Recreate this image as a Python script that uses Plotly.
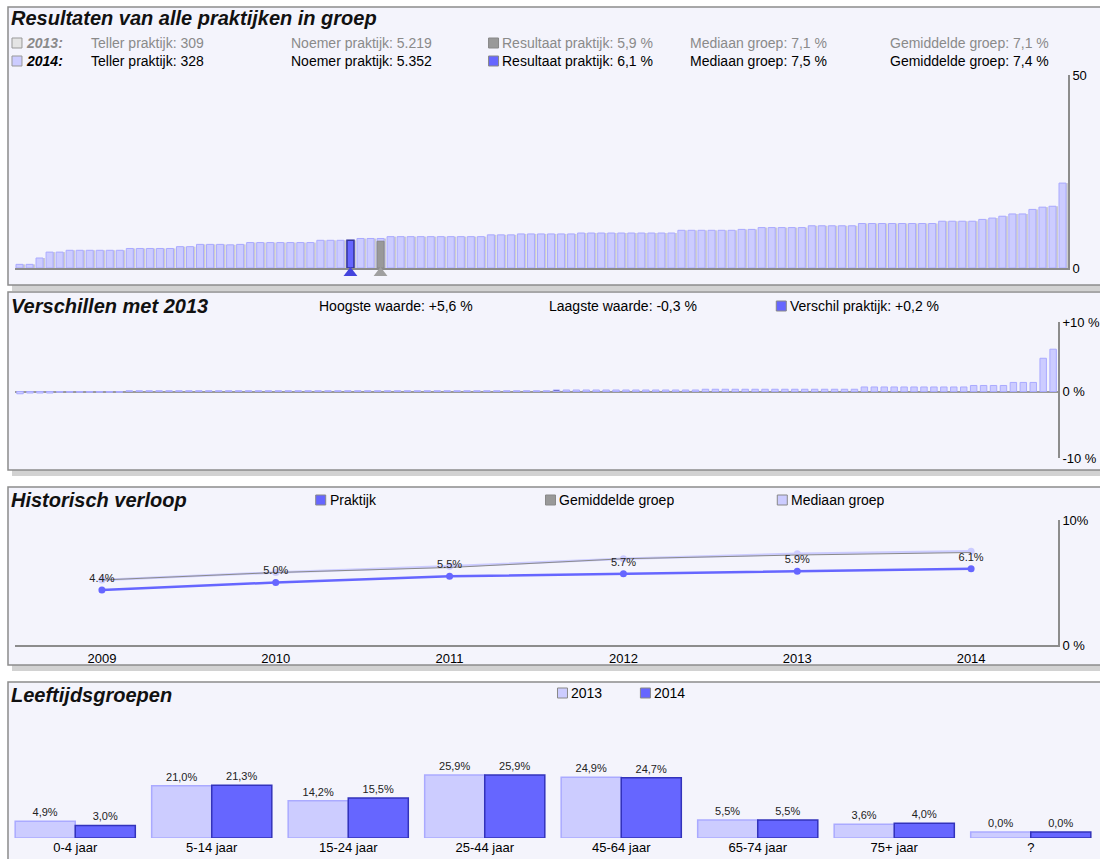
import plotly.graph_objects as go

W, H = 1100, 859

# ---- panel 1: result 2014 for every practice in the group (sorted, %) ----
results_2014 = [
    0.8, 0.8, 2.2, 3.5, 3.5, 3.9, 3.9, 3.9, 3.9, 3.9,
    3.9, 4.3, 4.3, 4.3, 4.3, 4.3, 4.7, 4.7, 5.2, 5.2,
    5.2, 5.1, 5.2, 5.6, 5.6, 5.6, 5.6, 5.6, 5.6, 5.6,
    6.1, 6.1, 6.1, 6.1, 6.5, 6.5, 6.5, 6.9, 6.9, 6.9,
    6.9, 6.9, 6.9, 6.9, 6.9, 6.9, 6.9, 7.3, 7.3, 7.3,
    7.5, 7.5, 7.5, 7.5, 7.5, 7.5, 7.7, 7.7, 7.7, 7.7,
    7.7, 7.7, 7.7, 7.7, 7.7, 7.7, 8.3, 8.3, 8.3, 8.3,
    8.3, 8.3, 8.5, 8.5, 8.9, 8.9, 8.9, 8.9, 8.9, 9.3,
    9.3, 9.3, 9.3, 9.3, 9.8, 9.8, 9.8, 9.8, 9.8, 9.8,
    9.8, 9.8, 10.3, 10.3, 10.3, 10.3, 10.7, 11.0, 11.4, 11.9,
    11.9, 12.9, 13.4, 13.6, 18.7,
]
practice_idx_2014 = 33
practice_idx_2013 = 36
practice_2014 = 6.1
practice_2013 = 5.9

# ---- panel 2: difference with 2013 per practice (sorted, %) ----
diff_2013 = [
    -0.3, -0.2, -0.2, -0.2, -0.1, -0.1, -0.1, -0.1, -0.1, -0.1,
    -0.1, 0.1, 0.1, 0.1, 0.1, 0.1, 0.1, 0.1, 0.1, 0.1,
    0.1, 0.1, 0.1, 0.1, 0.1, 0.1, 0.1, 0.1, 0.1, 0.1,
    0.1, 0.1, 0.1, 0.1, 0.1, 0.1, 0.1, 0.1, 0.1, 0.1,
    0.1, 0.1, 0.1, 0.1, 0.1, 0.1, 0.1, 0.1, 0.1, 0.1,
    0.1, 0.1, 0.1, 0.1, 0.2, 0.2, 0.2, 0.2, 0.2, 0.2,
    0.2, 0.2, 0.2, 0.2, 0.2, 0.2, 0.2, 0.2, 0.2, 0.3,
    0.3, 0.3, 0.3, 0.3, 0.3, 0.3, 0.3, 0.3, 0.3, 0.3,
    0.3, 0.3, 0.3, 0.3, 0.3, 0.6, 0.6, 0.6, 0.6, 0.6,
    0.6, 0.6, 0.6, 0.6, 0.6, 0.6, 0.8, 0.8, 0.8, 0.8,
    1.2, 1.2, 1.2, 4.4, 5.6,
]
practice_diff_idx = 54

# ---- panel 3: history ----
years = ['2009', '2010', '2011', '2012', '2013', '2014']
hist_praktijk = [4.4, 5.0, 5.5, 5.7, 5.9, 6.1]
hist_gemiddelde = [5.2, 5.8, 6.2, 6.9, 7.2, 7.4]
hist_mediaan = [5.2, 5.8, 6.3, 6.9, 7.3, 7.5]

# ---- panel 4: age groups ----
age_groups = ['0-4 jaar', '5-14 jaar', '15-24 jaar', '25-44 jaar',
              '45-64 jaar', '65-74 jaar', '75+ jaar', '?']
age_2013 = [4.9, 21.0, 14.2, 25.9, 24.9, 5.5, 3.6, 0.0]
age_2014 = [3.0, 21.3, 15.5, 25.9, 24.7, 5.5, 4.0, 0.0]

FONT = 'Liberation Sans, Arial, sans-serif'
LAV = '#ccccff'
LAV_LINE = '#aaaaff'
BLUE = '#6666ff'
BLUE_LINE = '#3333bb'
GREY = '#999999'
PANEL_BG = '#f4f4fc'
FRAME = '#8c8c8c'


def fx(px):
    return px / W


def fy(py):
    # vertical pixel -> paper fraction (calibrated against the rendered page)
    return 1 - (py - 7) / 844


def nl(v):
    return f"{v:.1f}%".replace('.', ',')


traces = []

# panel 1
idx1 = list(range(len(results_2014)))
traces.append(go.Bar(x=idx1, y=results_2014, xaxis='x', yaxis='y',
                     width=0.7, offset=-0.2,
                     marker=dict(color='#cdcdcd', line=dict(width=0)),
                     hoverinfo='skip'))
traces.append(go.Bar(x=idx1, y=results_2014, xaxis='x', yaxis='y',
                     width=0.7, offset=-0.4,
                     marker=dict(color=LAV, line=dict(color=LAV_LINE, width=1))))
traces.append(go.Bar(x=[practice_idx_2013], y=[practice_2013], xaxis='x', yaxis='y',
                     width=0.7, offset=-0.4,
                     marker=dict(color=GREY, line=dict(color='#888888', width=1))))
traces.append(go.Bar(x=[practice_idx_2014], y=[practice_2014], xaxis='x', yaxis='y',
                     width=0.7, offset=-0.4,
                     marker=dict(color=BLUE, line=dict(color='#333399', width=1.5))))
# position markers under the practice bars (own thin strip axis)
traces.append(go.Scatter(x=[practice_idx_2014 - 0.05, practice_idx_2013 - 0.05], y=[0, 0],
                         xaxis='x', yaxis='y5', mode='markers', cliponaxis=False,
                         marker=dict(symbol='triangle-up', size=12,
                                     color=['#4444dd', '#a0a0a0'],
                                     line=dict(width=0))))

# panel 2
idx2 = list(range(len(diff_2013)))
diff_colors = [LAV] * len(diff_2013)
diff_colors[practice_diff_idx] = '#444499'
traces.append(go.Bar(x=idx2, y=diff_2013, xaxis='x2', yaxis='y2',
                     width=0.65, offset=-0.32,
                     marker=dict(color=diff_colors, line=dict(color=LAV_LINE, width=1))))

# panel 3
traces.append(go.Scatter(x=years, y=hist_mediaan, xaxis='x3', yaxis='y3',
                         mode='lines+markers', line=dict(color=LAV, width=2.5),
                         marker=dict(size=7, color=LAV)))
traces.append(go.Scatter(x=years, y=hist_gemiddelde, xaxis='x3', yaxis='y3',
                         mode='lines', line=dict(color='#8a8a8a', width=1)))
traces.append(go.Scatter(x=years, y=hist_praktijk, xaxis='x3', yaxis='y3',
                         mode='lines+markers+text', line=dict(color=BLUE, width=2.5),
                         marker=dict(size=7, color=BLUE),
                         text=[f"{v:.1f}%" for v in hist_praktijk],
                         textposition='top center',
                         textfont=dict(size=11, color='#222')))

# panel 4 - bars carry a small stub below the zero line, as in the original
stub = 2.7
traces.append(go.Bar(x=age_groups, y=[v + stub for v in age_2013], base=-stub,
                     xaxis='x4', yaxis='y4',
                     marker=dict(color=LAV, line=dict(color=LAV_LINE, width=1.5)),
                     text=[nl(v) for v in age_2013], textposition='outside',
                     textfont=dict(size=11, color='#222'), cliponaxis=False))
traces.append(go.Bar(x=age_groups, y=[v + stub for v in age_2014], base=-stub,
                     xaxis='x4', yaxis='y4',
                     marker=dict(color=BLUE, line=dict(color=BLUE_LINE, width=1.5)),
                     text=[nl(v) for v in age_2014], textposition='outside',
                     textfont=dict(size=11, color='#222'), cliponaxis=False))

fig = go.Figure(data=traces)

# panel frames (shadow + box)
shapes = []
for top, bottom in [(7, 285), (292, 470), (487, 665), (682, 866)]:
    shapes.append(dict(type='rect', xref='paper', yref='paper', layer='below',
                       x0=fx(12), x1=fx(1110), y0=fy(bottom + 6), y1=fy(bottom),
                       fillcolor='#d2d2d2', line=dict(width=0)))
    shapes.append(dict(type='rect', xref='paper', yref='paper', layer='below',
                       x0=fx(8), x1=fx(1110), y0=fy(bottom), y1=fy(top),
                       fillcolor=PANEL_BG, line=dict(color=FRAME, width=1.5)))

annotations = []


def text(x, y, s, size=14, color='#000'):
    annotations.append(dict(xref='paper', yref='paper', x=fx(x), y=fy(y), text=s,
                            showarrow=False, xanchor='left', yanchor='middle',
                            font=dict(size=size, color=color, family=FONT)))


def square(x, y, color, border='#888888'):
    shapes.append(dict(type='rect', xref='paper', yref='paper',
                       x0=fx(x), x1=fx(x + 10), y0=fy(y + 5), y1=fy(y - 5),
                       fillcolor=color, line=dict(color=border, width=1)))


# panel 1 header
text(9, 18, '<b><i>Resultaten van alle praktijken in groep</i></b>', size=20, color='#111')
row1, row2 = 43, 61
grey_txt = '#8a8a8a'
square(12, row1, '#e4e4e4', '#999')
text(24, row1, '<b><i>2013:</i></b>', color=grey_txt)
text(89, row1, 'Teller praktijk: 309', color=grey_txt)
text(289, row1, 'Noemer praktijk: 5.219', color=grey_txt)
square(489, row1, GREY)
text(500, row1, 'Resultaat praktijk: 5,9 %', color=grey_txt)
text(689, row1, 'Mediaan groep: 7,1 %', color=grey_txt)
text(889, row1, 'Gemiddelde groep: 7,1 %', color=grey_txt)
square(12, row2, LAV, '#999')
text(24, row2, '<b><i>2014:</i></b>')
text(89, row2, 'Teller praktijk: 328')
text(289, row2, 'Noemer praktijk: 5.352')
square(489, row2, BLUE)
text(500, row2, 'Resultaat praktijk: 6,1 %')
text(689, row2, 'Mediaan groep: 7,5 %')
text(889, row2, 'Gemiddelde groep: 7,4 %')

# panel 2 header
text(9, 306, '<b><i>Verschillen met 2013</i></b>', size=20, color='#111')
text(317, 306, 'Hoogste waarde: +5,6 %')
text(547, 306, 'Laagste waarde: -0,3 %')
square(777, 306, BLUE)
text(789, 306, 'Verschil praktijk: +0,2 %')

# panel 3 header
text(9, 500, '<b><i>Historisch verloop</i></b>', size=20, color='#111')
square(316, 500, BLUE)
text(328, 500, 'Praktijk')
square(546, 500, GREY)
text(558, 500, 'Gemiddelde groep')
square(778, 500, LAV)
text(790, 500, 'Mediaan groep')

# panel 4 header
text(9, 695, '<b><i>Leeftijdsgroepen</i></b>', size=20, color='#111')
square(558, 693, LAV)
text(570, 693, '2013')
square(641, 693, BLUE)
text(653, 693, '2014')

tickfont = dict(size=13, color='#000', family=FONT)

fig.update_layout(
    width=W, height=H,
    margin=dict(l=0, r=0, t=0, b=0),
    paper_bgcolor='white',
    plot_bgcolor='rgba(0,0,0,0)',
    font=dict(family=FONT),
    showlegend=False,
    barmode='group',
    bargap=0.12,
    bargroupgap=0,
    shapes=shapes,
    annotations=annotations,
    xaxis=dict(domain=[fx(15), fx(1069)], range=[-0.5, len(results_2014) - 0.5],
               anchor='y', showgrid=False, zeroline=False, showticklabels=False,
               showline=True, linecolor='#8c8c8c', linewidth=2),
    yaxis=dict(domain=[fy(268), fy(75)], range=[0, 42.5], anchor='x', side='right',
               showgrid=False, zeroline=False, showline=True, linecolor='#8c8c8c',
               linewidth=1.5, tickvals=[0, 42.5], ticktext=['0', '50'], tickfont=tickfont),
    yaxis5=dict(domain=[fy(280), fy(266)], range=[-1, 1], anchor='x', visible=False),
    xaxis2=dict(domain=[fx(15), fx(1059)], range=[-0.5, len(diff_2013) - 0.5],
                anchor='y2', showgrid=False, zeroline=False, showticklabels=False,
                showline=False),
    yaxis2=dict(domain=[fy(458), fy(322)], range=[-8.8, 9.2], anchor='x2', side='right',
                showgrid=False, zeroline=True, zerolinecolor='#9a9a9a', zerolinewidth=1.5,
                showline=True, linecolor='#8c8c8c', linewidth=1.5,
                tickvals=[-8.8, 0, 9.2], ticktext=['-10 %', '0 %', '+10 %'], tickfont=tickfont),
    xaxis3=dict(domain=[fx(15), fx(1059)], type='category', range=[-0.5, 5.5],
                anchor='y3', showgrid=False, zeroline=False, showline=True,
                linecolor='#8c8c8c', linewidth=2, ticks='', tickfont=tickfont),
    yaxis3=dict(domain=[fy(645), fy(520)], range=[0, 10], anchor='x3', side='right',
                showgrid=False, zeroline=False, showline=True, linecolor='#8c8c8c',
                linewidth=1.5, tickvals=[0, 10], ticktext=['0 %', '10%'], tickfont=tickfont),
    xaxis4=dict(domain=[fx(7), fx(1100)], type='category', anchor='y4',
                showgrid=False, zeroline=False, showline=False, ticks='', tickfont=tickfont),
    yaxis4=dict(domain=[fy(838), fy(700)], range=[-stub, 60], anchor='x4', visible=False),
)

# drop the default page margin so the 1100x859 figure fills the window exactly
fig.write_html("out.html", config={'displayModeBar': False},
               post_script="document.body.style.margin='0';document.body.style.overflow='hidden';")
